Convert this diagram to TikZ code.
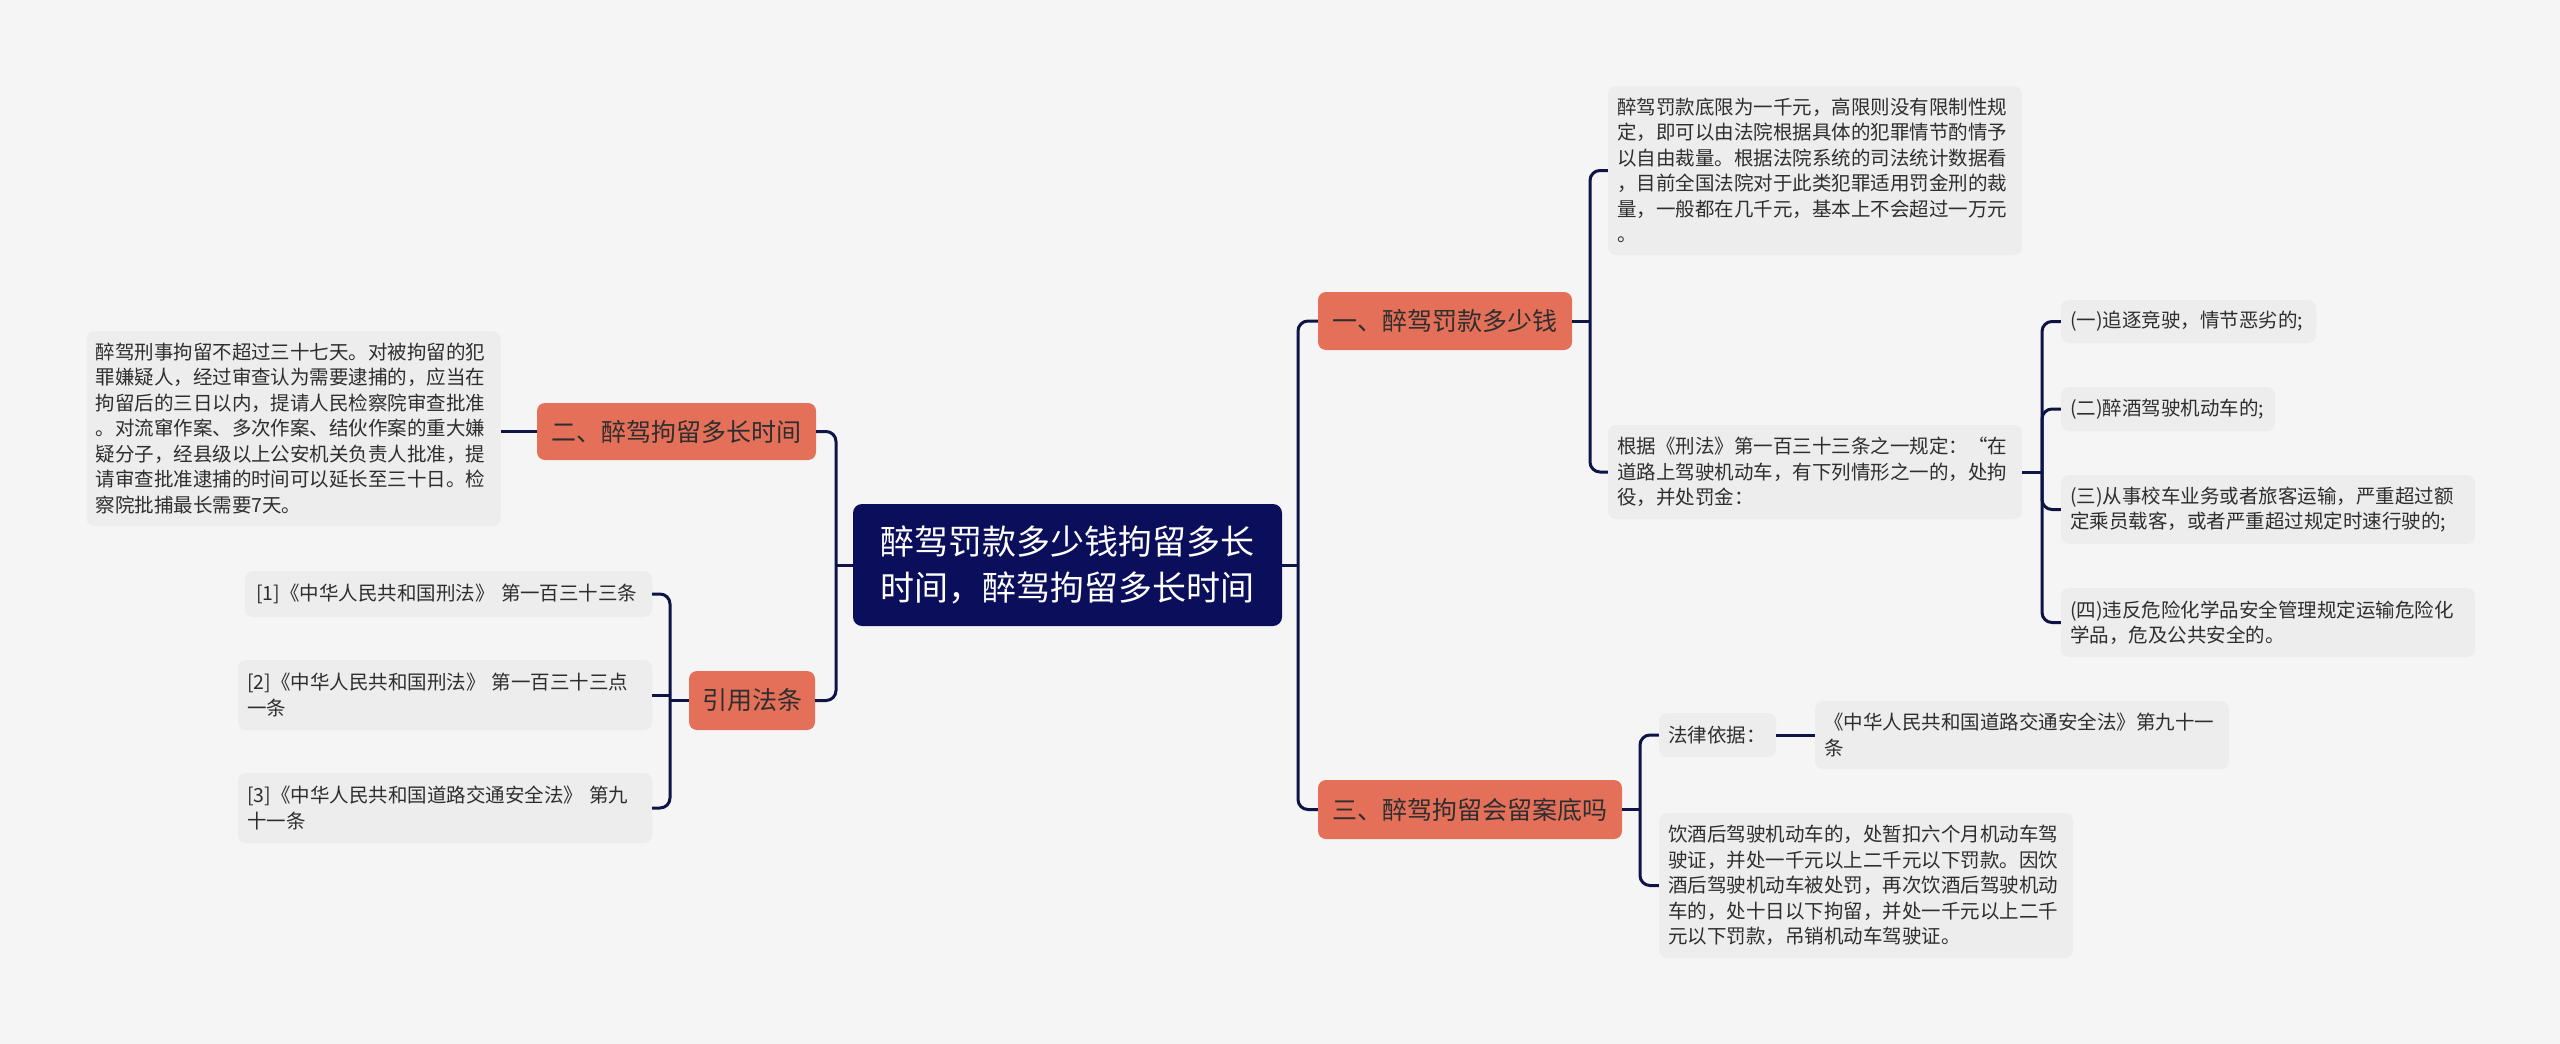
\documentclass[tikz,border=0pt]{standalone}
\usepackage{fontspec}
\newfontfamily\cjk{Noto Sans CJK SC}
\definecolor{bgc}{HTML}{F5F5F5}
\definecolor{boxc}{HTML}{EDEDED}
\definecolor{linec}{HTML}{0E1446}
\definecolor{navy}{HTML}{0B0E5B}
\definecolor{salmon}{HTML}{E4705A}
\definecolor{txtc}{HTML}{2E2E2E}
\tikzset{
  conn/.style={draw=linec, line width=3pt, rounded corners=10pt},
  textbox/.style={fill=boxc, rounded corners=8pt, inner xsep=9pt, inner ysep=0pt,
    align=left, text=txtc, font=\cjk\fontsize{19.5}{25.5}\selectfont},
  branch/.style={fill=salmon, rounded corners=8pt, text=txtc, inner sep=0pt,
    font=\cjk\fontsize{25}{30}\selectfont},
  rootbox/.style={fill=navy, rounded corners=9pt, text=white, align=center, inner sep=0pt,
    font=\cjk\fontsize{34}{46.5}\selectfont},
}
\begin{document}
\begin{tikzpicture}[x=1pt,y=-1pt]
\useasboundingbox[fill=bgc] (0,0) rectangle (2560,1044);

% root and branches
\node[rootbox, minimum width=429pt, minimum height=122pt] (root) at (1067.5,565)
  {醉驾罚款多少钱拘留多长\\时间，醉驾拘留多长时间};
\node[branch, minimum width=279pt, minimum height=57pt] (n2) at (676.5,431.5) {二、醉驾拘留多长时间};
\node[branch, minimum width=126pt, minimum height=59pt] (ncite) at (752,700.5) {引用法条};
\node[branch, minimum width=254pt, minimum height=58pt] (n1) at (1445,321) {一、醉驾罚款多少钱};
\node[branch, minimum width=304pt, minimum height=59pt] (n3) at (1470,809.5) {三、醉驾拘留会留案底吗};

% left leaves
\node[textbox, minimum width=414pt, text width=396pt, minimum height=195pt] (l2) at (293.5,428.5)
  {醉驾刑事拘留不超过三十七天。对被拘留的犯\\罪嫌疑人，经过审查认为需要逮捕的，应当在\\拘留后的三日以内，提请人民检察院审查批准\\。对流窜作案、多次作案、结伙作案的重大嫌\\疑分子，经县级以上公安机关负责人批准，提\\请审查批准逮捕的时间可以延长至三十日。检\\察院批捕最长需要7天。};
\node[textbox, minimum width=407pt, text width=385pt, inner xsep=11pt, minimum height=46pt] (c1) at (448.5,594)
  {[1]《中华人民共和国刑法》~第一百三十三条};
\node[textbox, minimum width=414pt, text width=396pt, minimum height=70pt] (c2) at (445,695)
  {[2]《中华人民共和国刑法》~第一百三十三点\\一条};
\node[textbox, minimum width=414pt, text width=396pt, minimum height=70pt] (c3) at (445,808)
  {[3]《中华人民共和国道路交通安全法》~第九\\十一条};

% right leaves
\node[textbox, minimum width=414pt, text width=396pt, minimum height=169pt] (a) at (1815,170.5)
  {醉驾罚款底限为一千元，高限则没有限制性规\\定，即可以由法院根据具体的犯罪情节酌情予\\以自由裁量。根据法院系统的司法统计数据看\\，目前全国法院对于此类犯罪适用罚金刑的裁\\量，一般都在几千元，基本上不会超过一万元\\。};
\node[textbox, minimum width=414pt, text width=396pt, minimum height=94pt] (b) at (1815,472)
  {根据《刑法》第一百三十三条之一规定：“在\\道路上驾驶机动车，有下列情形之一的，处拘\\役，并处罚金：};
\node[textbox, minimum width=255pt, text width=237pt, minimum height=43pt] (s1) at (2188.5,321.5)
  {(一)追逐竞驶，情节恶劣的;};
\node[textbox, minimum width=214pt, text width=196pt, minimum height=44pt] (s2) at (2168,409)
  {(二)醉酒驾驶机动车的;};
\node[textbox, minimum width=414pt, text width=396pt, minimum height=69pt] (s3) at (2268,509.5)
  {(三)从事校车业务或者旅客运输，严重超过额\\定乘员载客，或者严重超过规定时速行驶的;};
\node[textbox, minimum width=414pt, text width=396pt, minimum height=69pt] (s4) at (2268,622.5)
  {(四)违反危险化学品安全管理规定运输危险化\\学品，危及公共安全的。};
\node[textbox, minimum width=117pt, text width=99pt, minimum height=44pt] (d1) at (1717.5,735)
  {法律依据：};
\node[textbox, minimum width=414pt, text width=396pt, minimum height=68pt] (d2) at (2022,735)
  {《中华人民共和国道路交通安全法》第九十一\\条};
\node[textbox, minimum width=414pt, text width=396pt, minimum height=145pt] (e) at (1866,885.5)
  {饮酒后驾驶机动车的，处暂扣六个月机动车驾\\驶证，并处一千元以上二千元以下罚款。因饮\\酒后驾驶机动车被处罚，再次饮酒后驾驶机动\\车的，处十日以下拘留，并处一千元以上二千\\元以下罚款，吊销机动车驾驶证。};

% junctions
\coordinate (lj) at (836,565);
\coordinate (rj) at (1298,565);
\coordinate (cj) at (670,700.5);
\coordinate (bj) at (1590,321);
\coordinate (sj) at (2042,472);
\coordinate (ej) at (1640,809.5);

% connectors
\draw[conn] (n2.east) -| (lj) |- (ncite.east);
\draw[conn] (root.west) -- (lj);
\draw[conn] (n2.west) -- (n2.west -| l2.east);
\draw[conn] (c1.east) -| (cj) |- (c3.east);
\draw[conn] (ncite.west) -- (cj);
\draw[conn] (c2.east) -- (c2.east -| cj);
\draw[conn] (n1.west) -| (rj) |- (n3.west);
\draw[conn] (root.east) -- (rj);
\draw[conn] (a.west) -| (bj) |- (b.west);
\draw[conn] (n1.east) -- (bj);
\draw[conn] (s1.west) -| (sj) |- (s4.west);
\draw[conn] (b.east) -- (sj);
\draw[conn] (s2.west) -| (sj);
\draw[conn] (s3.west) -| (sj);
\draw[conn] (d1.west) -| (ej) |- (e.west);
\draw[conn] (n3.east) -- (ej);
\draw[conn] (d1.east) -- (d2.west);
\end{tikzpicture}
\end{document}
